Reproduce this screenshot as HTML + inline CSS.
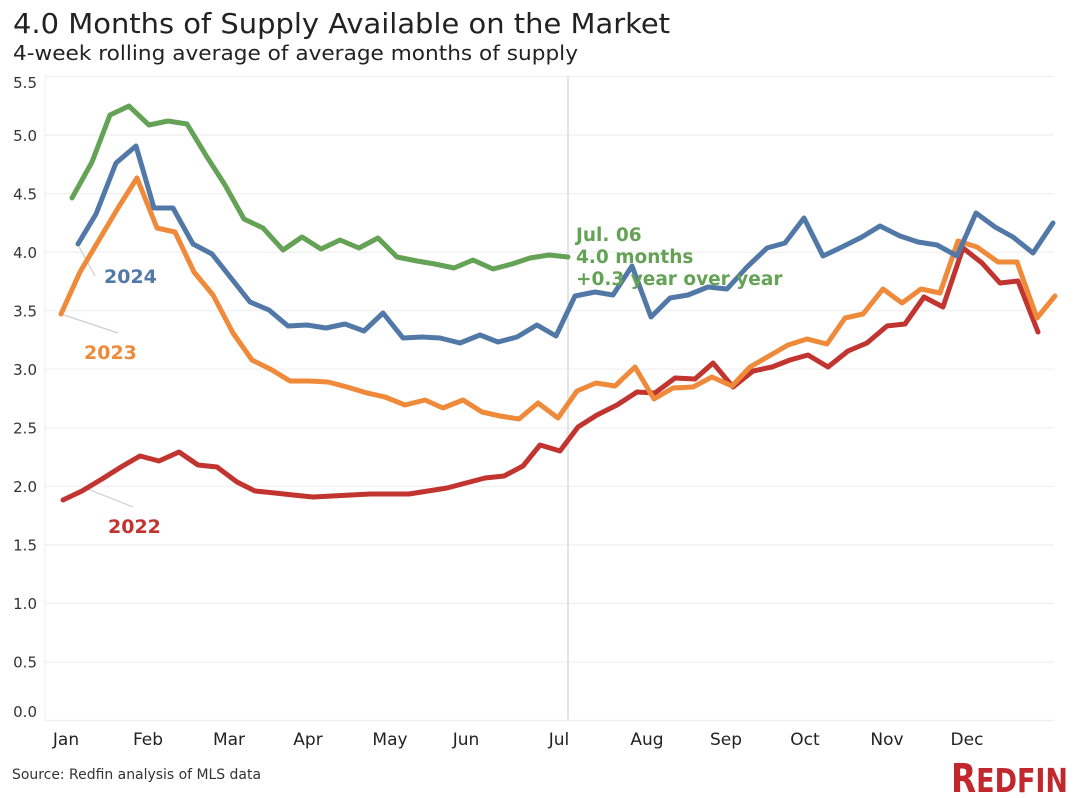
<!DOCTYPE html>
<html>
<head>
<meta charset="utf-8">
<style>
html,body{margin:0;padding:0;background:#fff;}
svg{display:block;}
text{font-family:"DejaVu Sans","Liberation Sans",sans-serif;}
</style>
</head>
<body>
<svg width="1080" height="798" viewBox="0 0 1080 798" xmlns="http://www.w3.org/2000/svg">
<rect width="1080" height="798" fill="#fff"/>
<!-- titles -->
<text x="13" y="33" font-size="28" fill="#222" textLength="657" lengthAdjust="spacingAndGlyphs">4.0 Months of Supply Available on the Market</text>
<text x="13" y="60" font-size="20.5" fill="#222" textLength="565" lengthAdjust="spacingAndGlyphs">4-week rolling average of average months of supply</text>

<!-- gridlines -->
<g stroke="#efefef" stroke-width="1.2">
<line x1="45" x2="1054" y1="720.5" y2="720.5"/>
<line x1="45" x2="1054" y1="662" y2="662"/>
<line x1="45" x2="1054" y1="603.4" y2="603.4"/>
<line x1="45" x2="1054" y1="544.9" y2="544.9"/>
<line x1="45" x2="1054" y1="486.3" y2="486.3"/>
<line x1="45" x2="1054" y1="427.8" y2="427.8"/>
<line x1="45" x2="1054" y1="369.2" y2="369.2"/>
<line x1="45" x2="1054" y1="310.7" y2="310.7"/>
<line x1="45" x2="1054" y1="252.1" y2="252.1"/>
<line x1="45" x2="1054" y1="193.6" y2="193.6"/>
<line x1="45" x2="1054" y1="135" y2="135"/>
<line x1="45" x2="1054" y1="76.5" y2="76.5"/>
<line x1="45" x2="45" y1="76.5" y2="720.5"/>
</g>
<line x1="568" x2="568" y1="76" y2="720.5" stroke="#dcdcdc" stroke-width="1.5"/>

<!-- y labels -->
<g font-size="15" fill="#333" text-anchor="end">
<text x="37" y="717">0.0</text>
<text x="37" y="667.5">0.5</text>
<text x="37" y="609">1.0</text>
<text x="37" y="550.5">1.5</text>
<text x="37" y="492">2.0</text>
<text x="37" y="433.5">2.5</text>
<text x="37" y="375">3.0</text>
<text x="37" y="316.5">3.5</text>
<text x="37" y="258">4.0</text>
<text x="37" y="199.5">4.5</text>
<text x="37" y="141">5.0</text>
<text x="37" y="88">5.5</text>
</g>

<!-- x labels -->
<g font-size="17" fill="#222" text-anchor="middle">
<text x="66" y="745">Jan</text>
<text x="148" y="745">Feb</text>
<text x="229" y="745">Mar</text>
<text x="308" y="745">Apr</text>
<text x="390" y="745">May</text>
<text x="466" y="745">Jun</text>
<text x="559" y="745">Jul</text>
<text x="647" y="745">Aug</text>
<text x="726" y="745">Sep</text>
<text x="805" y="745">Oct</text>
<text x="887" y="745">Nov</text>
<text x="967" y="745">Dec</text>
</g>

<!-- leader lines -->
<g stroke="#cfcfcf" stroke-width="1.2">
<line x1="78" y1="245" x2="95" y2="276"/>
<line x1="61" y1="314" x2="118" y2="333"/>
<line x1="85" y1="488" x2="133" y2="507"/>
</g>

<!-- series -->
<g fill="none" stroke-width="5" stroke-linejoin="round" stroke-linecap="round">
<polyline stroke="#c1342f" points="63,500 82,491 102,479 121,467 140,456 159,461 179,452 198,465 217,467 237,482 255,491 275,493 293,495 313,497 332,496 351,495 370,494 390,494 409,494 428,491 447,488 466,483 485,478 504,476 523,466 540,445 560,451 578,427 597,415 617,405 637,392 655,393 675,378 695,379 713,363 733,387 753,371 772,367 790,360 808,355 828,367 848,351 867,343 887,326 905,324 924,297 943,307 963,248 982,263 1000,283 1018,281 1038,332"/>
<polyline stroke="#ef8a3a" points="61,314 80,272 99,240 118,208 137,178 157,228 175,232 194,272 213,295 233,333 252,360 272,370 290,381 309,381 328,382 347,387 367,393 385,397 405,405 425,400 443,408 463,400 482,412 500,416 519,419 538,403 558,418 577,391 596,383 615,386 635,367 654,399 673,388 693,387 712,377 732,386 750,367 769,356 788,345 807,339 827,344 845,318 863,314 883,289 902,303 921,289 940,293 958,241 977,247 998,262 1017,262 1037,318 1055,296"/>
<polyline stroke="#5278a8" points="78,244 96,214 116,163 136,146 154,208 173,208 193,244 212,254 231,278 250,302 269,310 288,326 307,325 326,328 345,324 364,331 383,313 403,338 422,337 440,338 460,343 480,335 498,342 517,337 537,325 556,336 575,296 595,292 613,295 632,266 651,317 670,298 688,295 708,287 727,289 747,267 767,248 785,243 804,218 823,256 842,247 862,237 880,226 900,236 918,242 937,245 957,256 976,213 995,227 1013,237 1033,253 1053,223"/>
<polyline stroke="#64a255" points="72,198 92,162 110,115 129,106 149,125 168,121 187,124 207,157 225,185 244,219 263,228 283,250 302,237 321,249 340,240 359,248 378,238 397,257 417,261 435,264 454,268 473,260 493,269 512,264 530,258 549,255 568,257"/>
</g>

<!-- series labels -->
<g font-size="19" font-weight="bold">
<text x="104" y="283" fill="#5278a8">2024</text>
<text x="84" y="359" fill="#ef8a3a">2023</text>
<text x="108" y="533" fill="#c1342f">2022</text>
</g>
<g font-size="18.5" font-weight="bold" fill="#64a255">
<text x="576" y="241">Jul. 06</text>
<text x="576" y="263">4.0 months</text>
<text x="576" y="285">+0.3 year over year</text>
</g>

<!-- footer -->
<text x="12" y="779" font-size="14" fill="#333" textLength="249" lengthAdjust="spacingAndGlyphs">Source: Redfin analysis of MLS data</text>
<text x="951" y="792" fill="#c1272d" font-family="Liberation Sans, sans-serif" font-weight="bold" textLength="117" lengthAdjust="spacingAndGlyphs"><tspan font-size="40">R</tspan><tspan font-size="33">EDFIN</tspan></text>
</svg>
</body>
</html>
